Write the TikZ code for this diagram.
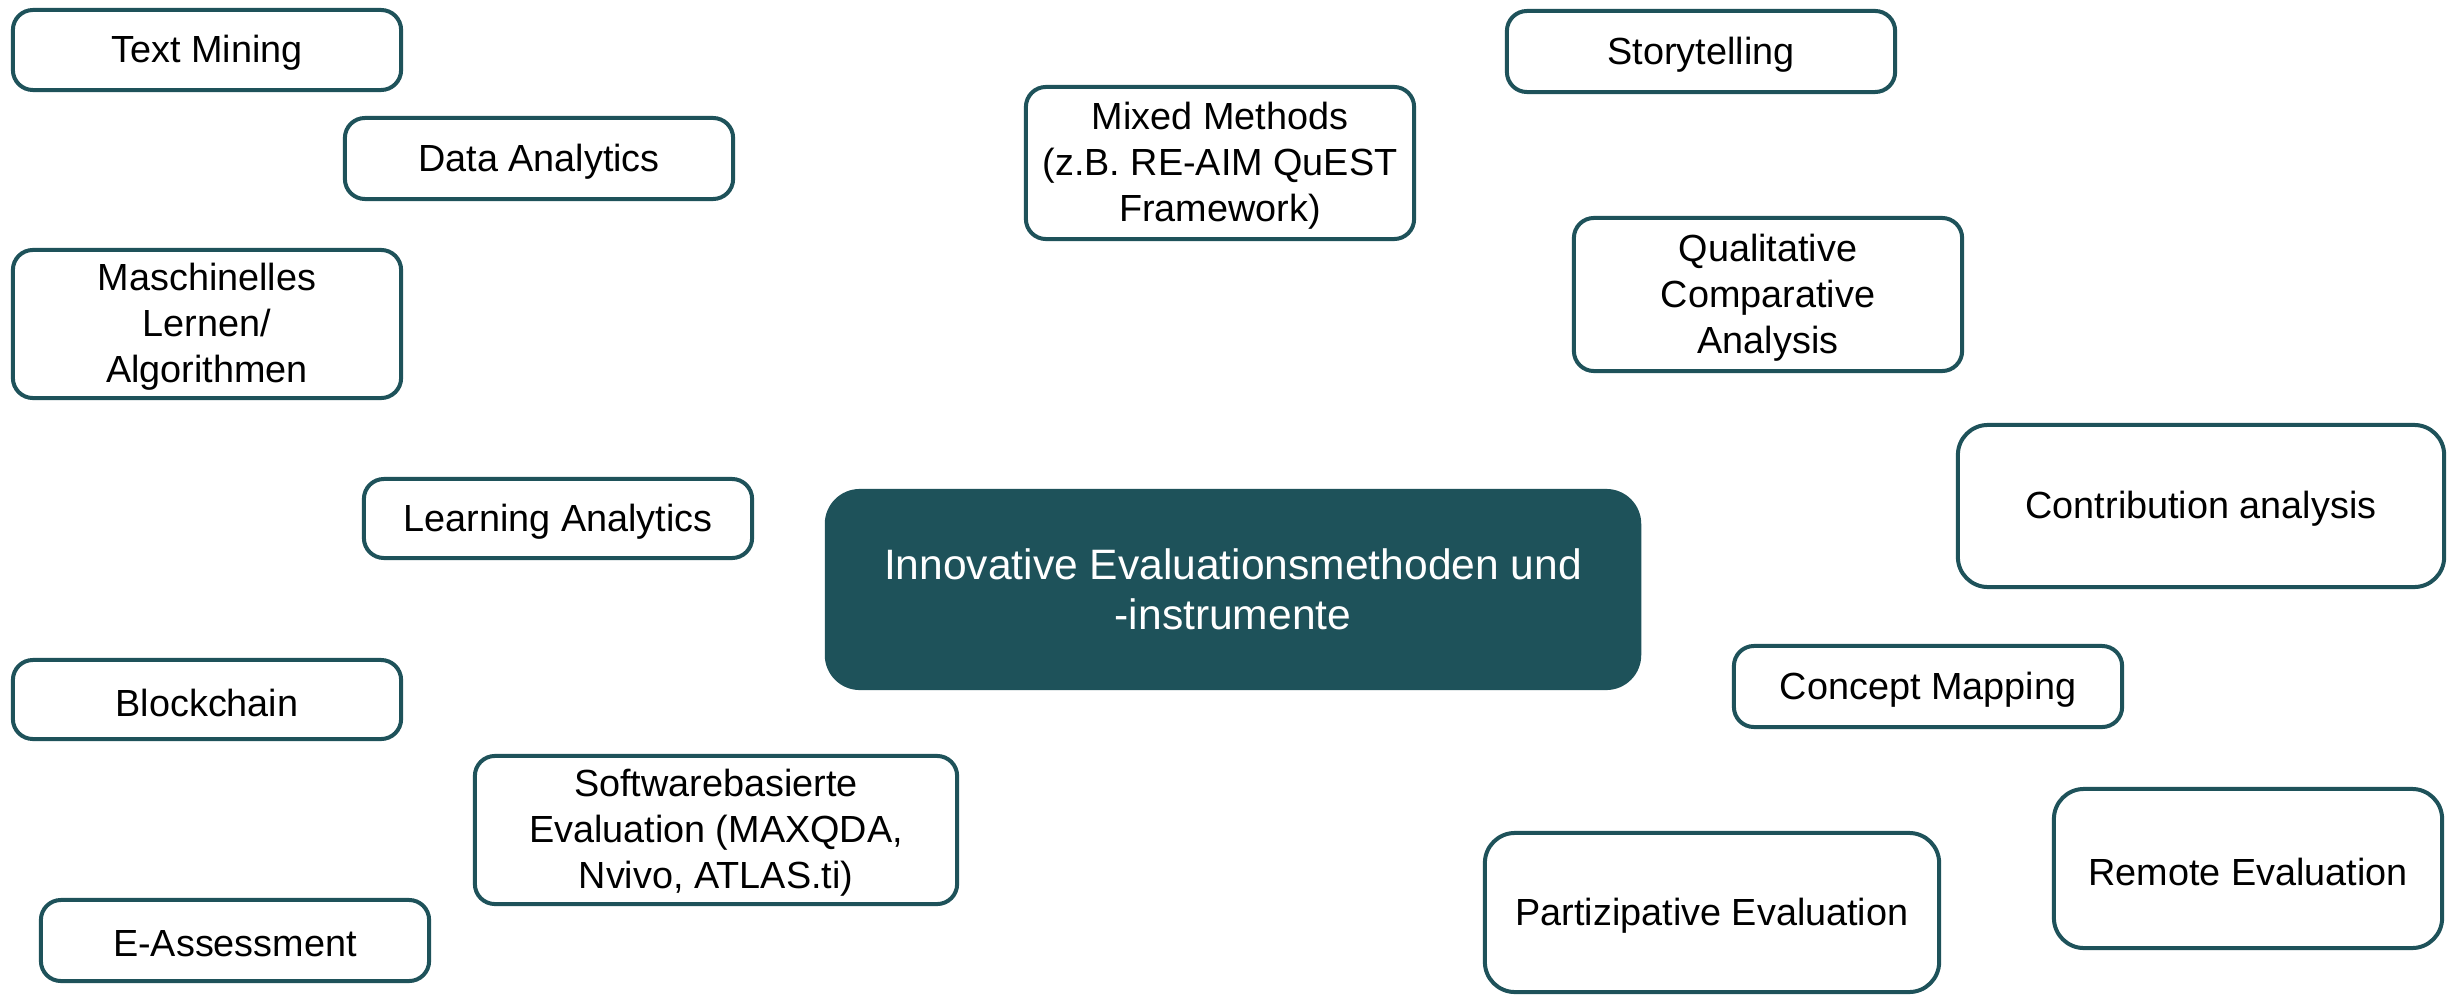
\documentclass[tikz,border=0pt]{standalone}
\usepackage{fontspec}
\setmainfont{Liberation Sans}
\definecolor{teal1}{HTML}{1E525A}
\begin{document}
\begin{tikzpicture}[x=0.01cm,y=-0.01cm,
  box/.style={draw=teal1, line width=0.04cm, fill=white, rounded corners=0.2cm,
    inner sep=0pt},
  bigbox/.style={box, rounded corners=0.3cm},
  txt/.style={yshift=-0.03cm, align=center, inner sep=0pt, text=black,
    font=\fontsize{10.75pt}{13.1pt}\selectfont},
  hub/.style={fill=teal1, rounded corners=0.35cm, align=center, inner sep=0pt,
    text=white, font=\fontsize{12.1pt}{14.2pt}\selectfont}]
\useasboundingbox (0,0) rectangle (2458,997);
\node[box, minimum width=3.88cm, minimum height=0.80cm, label={[txt]center:{Text Mining}}] (tm) at (207,50) {};
\node[box, minimum width=3.88cm, minimum height=0.81cm, label={[txt]center:{Data Analytics}}] (da) at (539,158.5) {};
\node[box, minimum width=3.88cm, minimum height=1.48cm, label={[txt]center:{Maschinelles\\Lernen/\\Algorithmen}}] (ml) at (207,324) {};
\node[box, minimum width=3.88cm, minimum height=0.79cm, label={[txt]center:{Learning Analytics}}] (la) at (558,518.5) {};
\node[box, minimum width=3.88cm, minimum height=0.79cm, label={[txt]center:{Blockchain}}] (bc) at (207,699.5) {};
\node[box, minimum width=4.82cm, minimum height=1.48cm, label={[txt]center:{Softwarebasierte\\Evaluation (MAXQDA,\\Nvivo, ATLAS.ti)}}] (sw) at (716,830) {};
\node[box, minimum width=3.88cm, minimum height=0.81cm, label={[txt]center:{E-Assessment}}] (ea) at (235,940.5) {};
\node[hub, minimum width=8.16cm, minimum height=2.01cm] (c) at (1233,589.5) {Innovative Evaluationsmethoden und\\-instrumente};
\node[box, minimum width=3.88cm, minimum height=1.52cm, label={[txt]center:{Mixed Methods\\(z.B. RE-AIM QuEST\\Framework)}}] (mm) at (1220,163) {};
\node[box, minimum width=3.88cm, minimum height=0.81cm, label={[txt]center:{Storytelling}}] (st) at (1701,51.5) {};
\node[box, minimum width=3.88cm, minimum height=1.53cm, label={[txt]center:{Qualitative\\Comparative\\Analysis}}] (qca) at (1768,294.5) {};
\node[bigbox, minimum width=4.86cm, minimum height=1.62cm, label={[txt]center:{Contribution analysis}}] (ca) at (2201,506) {};
\node[box, minimum width=3.88cm, minimum height=0.81cm, label={[txt]center:{Concept Mapping}}] (cm) at (1928,686.5) {};
\node[bigbox, minimum width=3.88cm, minimum height=1.59cm, label={[txt]center:{Remote Evaluation}}] (re) at (2248,868.5) {};
\node[bigbox, minimum width=4.54cm, minimum height=1.59cm, label={[txt]center:{Partizipative Evaluation}}] (pe) at (1712,912.5) {};
\end{tikzpicture}
\end{document}
